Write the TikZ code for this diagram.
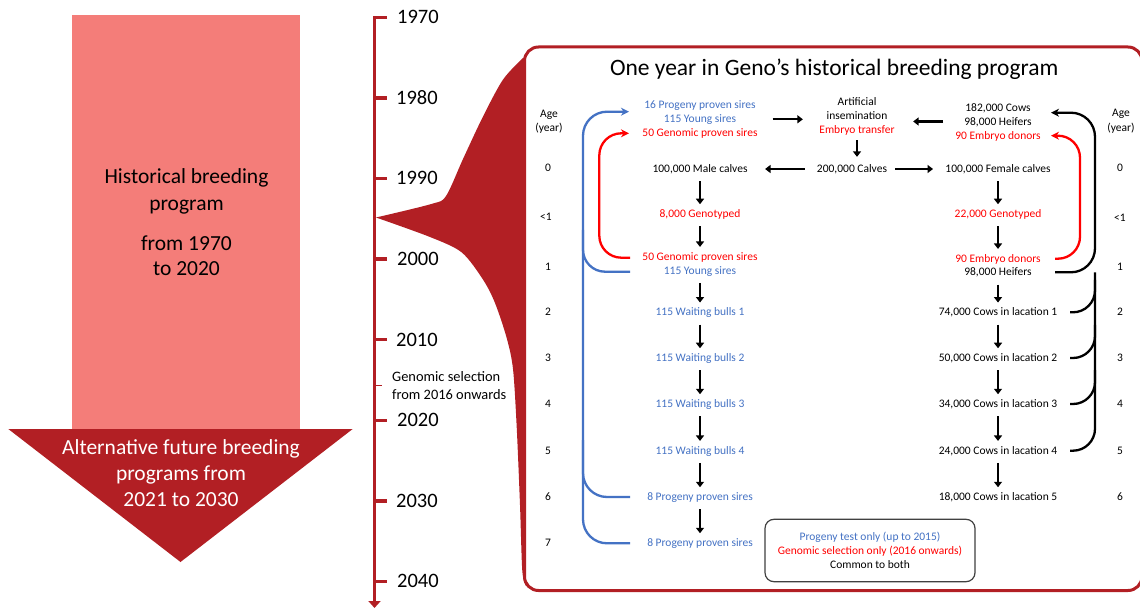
\documentclass[tikz,border=0pt]{standalone}
\usepackage{fontspec}
\setmainfont{Carlito}
\usetikzlibrary{arrows.meta}
\definecolor{dred}{HTML}{B21F24}
\definecolor{salmon}{HTML}{F47D79}
\definecolor{oblue}{HTML}{4472C4}
\definecolor{bred}{HTML}{FF0000}
\definecolor{lgray}{HTML}{404040}
\begin{document}
\begin{tikzpicture}[x=1pt,y=-1pt,
  t/.style={inner sep=0pt, text height=7.1pt, text depth=0pt, font=\fontsize{11.5}{14}\selectfont, anchor=center},
  tb/.style={t, text=oblue},
  tr/.style={t, text=bred},
  yr/.style={inner sep=0pt, text height=12.7pt, text depth=0pt, font=\fontsize{20.5}{24}\selectfont, anchor=west},
  big/.style={inner sep=0pt, text height=13.3pt, text depth=0pt, font=\fontsize{21.5}{26}\selectfont},
  gs/.style={inner sep=0pt, text height=8.9pt, text depth=0pt, font=\fontsize{14.4}{17}\selectfont, anchor=west},
  kA/.style={line width=2.2pt, -{Triangle[length=5.5pt,width=8pt]}},
  tipS/.style={-{Stealth[length=8pt,width=8pt,inset=2.5pt]}},
  bl/.style={oblue, line width=2.3pt},
  rl/.style={bred, line width=2.3pt},
  kl/.style={black, line width=2.3pt},
  tick/.style={dred, line width=3.5pt},
]
\useasboundingbox (0,0) rectangle (1140,609);

% ---------- left arrow ----------
\fill[salmon] (72,15.5) rectangle (300,429);
\fill[dred] (8.3,429) -- (352.7,429) -- (180.5,562) -- cycle;
\node[big] (h1) at (186.5,176.7) {Historical breeding};
\node[big] (h2) at (186.5,203.9) {program};
\node[big] (h3) at (186.5,243.5) {from 1970};
\node[big] (h4) at (186.5,269) {to 2020};
\node[big, text=white] (f1) at (181,447.8) {Alternative future breeding};
\node[big, text=white] (f2) at (181,473.8) {programs from};
\node[big, text=white] (f3) at (181,499.8) {2021 to 2030};

% ---------- funnel ----------
\fill[dred] plot[smooth, tension=0.5] coordinates {(376,217.5) (431.7,203.9) (446,196) (463,159) (483,116.5) (503,79.6) (523,58)}
  -- (532,58) -- (532,586)
  -- plot[smooth, tension=0.5] coordinates {(526,586) (522.3,571) (520,505) (516.7,427) (513,369) (506.7,338) (495,303) (483,279.6) (461.7,252.4) (430,237) (376,217.5)} -- cycle;

% ---------- timeline ----------
\draw[tick, -{Triangle[length=7pt,width=12pt]}] (387,17.5) -- (374.5,17.5) -- (374.5,608);
\foreach \yy in {98,178.6,259.2,339.7,420.3,500.8,581.4} {\draw[tick] (374.5,\yy) -- (387,\yy);}
\draw[dred, line width=1.5pt] (374.5,385.6) -- (381.5,385.6);
\node[yr] (y1970) at (397,17.5) {1970};
\node[yr] (y1980) at (396,98) {1980};
\node[yr] (y1990) at (396,178.6) {1990};
\node[yr] (y2000) at (397,259.2) {2000};
\node[yr] (y2010) at (396,339.7) {2010};
\node[yr] (y2020) at (397,420.3) {2020};
\node[yr] (y2030) at (396,500.8) {2030};
\node[yr] (y2040) at (397,581.4) {2040};
\node[gs] (gs1) at (392,377.5) {Genomic selection};
\node[gs] (gs2) at (392,395.3) {from 2016 onwards};

% ---------- box ----------
\draw[dred, line width=3pt, fill=white, rounded corners=14pt] (524.5,47) rectangle (1142,590.5);
\node[inner sep=0pt, text height=14.6pt, text depth=0pt, font=\fontsize{23.5}{28}\selectfont] (title) at (834.2,68) {One year in Geno’s historical breeding program};

% ages
\node[t] (aL) at (549,114) {Age};
\node[t] (aLy) at (549,128) {(year)};
\node[t] (aL0) at (548,168.3) {0};
\node[t] (aL1a) at (546,216.7) {<1};
\node[t] (aL1) at (548,266.7) {1};
\node[t] (aL2) at (548,312.3) {2};
\node[t] (aL3) at (548,358) {3};
\node[t] (aL4) at (548,404) {4};
\node[t] (aL5) at (548,450.7) {5};
\node[t] (aL6) at (548,497) {6};
\node[t] (aL7) at (548,543) {7};
\node[t] (aR) at (1121,113.3) {Age};
\node[t] (aRy) at (1121,127.7) {(year)};
\node[t] (aR0) at (1120,168.3) {0};
\node[t] (aR1a) at (1120,217.7) {<1};
\node[t] (aR1) at (1120,266.7) {1};
\node[t] (aR2) at (1120,312.3) {2};
\node[t] (aR3) at (1120,358) {3};
\node[t] (aR4) at (1120,404) {4};
\node[t] (aR5) at (1120,450.7) {5};
\node[t] (aR6) at (1120,496.7) {6};

% left column
\node[tb] (lA1) at (700,105) {16 Progeny proven sires};
\node[tb] (lA2) at (700,119.3) {115 Young sires};
\node[tr] (lA3) at (700,133.3) {50 Genomic proven sires};
\node[t]  (lM)  at (700,169) {100,000 Male calves};
\node[tr] (lG)  at (700,214) {8,000 Genotyped};
\node[tr] (lP1) at (700,256.7) {50 Genomic proven sires};
\node[tb] (lP2) at (700,270.7) {115 Young sires};
\node[tb] (lW1) at (700,312.3) {115 Waiting bulls 1};
\node[tb] (lW2) at (700,358) {115 Waiting bulls 2};
\node[tb] (lW3) at (700,404) {115 Waiting bulls 3};
\node[tb] (lW4) at (700,450.7) {115 Waiting bulls 4};
\node[tb] (lS6) at (700,497) {8 Progeny proven sires};
\node[tb] (lS7) at (700,543) {8 Progeny proven sires};

% middle column
\node[t]  (mA1) at (857,102.3) {Artificial};
\node[t]  (mA2) at (857,116.3) {insemination};
\node[tr] (mA3) at (857,130) {Embryo transfer};
\node[t]  (mC)  at (852,169) {200,000 Calves};

% right column
\node[t]  (rA1) at (998,107.7) {182,000 Cows};
\node[t]  (rA2) at (998,121.5) {98,000 Heifers};
\node[tr] (rA3) at (998,135.7) {90 Embryo donors};
\node[t]  (rF)  at (998,169) {100,000 Female calves};
\node[tr] (rG)  at (998,214) {22,000 Genotyped};
\node[tr] (rP1) at (998,258.7) {90 Embryo donors};
\node[t]  (rP2) at (998,272.3) {98,000 Heifers};
\node[t]  (rL1) at (998,312.3) {74,000 Cows in lacation 1};
\node[t]  (rL2) at (998,358) {50,000 Cows in lacation 2};
\node[t]  (rL3) at (998,404) {34,000 Cows in lacation 3};
\node[t]  (rL4) at (998,450.7) {24,000 Cows in lacation 4};
\node[t]  (rL5) at (998,497) {18,000 Cows in lacation 5};

% legend
\node[draw=lgray, line width=1.2pt, rounded corners=9pt, minimum width=210pt, minimum height=62.4pt,
      align=center, inner sep=0pt, font=\fontsize{11.5}{14}\selectfont] (leg) at (870,550.5)
  {\textcolor{oblue}{Progeny test only (up to 2015)}\\\textcolor{bred}{Genomic selection only (2016 onwards)}\\Common to both};

% black arrows
\draw[kA, shorten <=36.4pt, shorten >=23.6pt] (lA2.east) -- (lA2.east -| mA2.west);
\draw[kA, shorten <=21pt, shorten >=25.6pt] (rA2.west) -- (rA2.west -| mA2.east);
\draw[kA, shorten <=6.4pt, shorten >=8.4pt] (mA3) -- (mA3 |- mC.north);
\draw[kA, shorten <=12pt, shorten >=17.4pt] (mC.west) -- (lM.east);
\draw[kA, shorten <=7.9pt, shorten >=12.2pt] (mC.east) -- (rF.west);
\foreach \a/\b in {lM/lG, lG/lP1, lP2/lW1, lW1/lW2, lW2/lW3, lW3/lW4, lW4/lS6, lS6/lS7,
                   rF/rG, rG/rP1, rP2/rL1, rL1/rL2, rL2/rL3, rL3/rL4, rL4/rL5}
  {\draw[kA, shorten <=8.5pt, shorten >=6pt] (\a) -- (\b);}

% connector ends
\coordinate (bS7) at (630,543.3);
\coordinate (bS6) at (630,497);
\coordinate (bP2) at (630,271.7);
\coordinate (bTop) at (629,111.7);
\coordinate (cRL1) at (630,257.7);
\coordinate (cRL2) at (629,133.3);
\coordinate (cRR1) at (1055,258.7);
\coordinate (cRR2) at (1051,135.7);
\coordinate (cKR1) at (1055,272.3);
\coordinate (cKR2) at (1051,112.7);
\coordinate (cL1) at (1070,312.3);
\coordinate (cL2) at (1070,358);
\coordinate (cL3) at (1070,404);
\coordinate (cL4) at (1070,450.7);

% blue loop
\draw[bl, rounded corners=24pt, tipS] (bS7) -| (583,111.7) -- (bTop);
\draw[bl, rounded corners=24pt] (bS6) -| (583,440);
\draw[bl, rounded corners=22pt] (bP2) -| (583,230);
% red loops
\draw[rl, rounded corners=22pt, tipS] (cRL1) -| (599.3,133.3) -- (cRL2);
\draw[rl, rounded corners=22pt, tipS] (cRR1) -| (1080,135.7) -- (cRR2);
% black loop
\draw[kl, rounded corners=24pt, tipS] (cKR1) -| (1095,112.7) -- (cKR2);
\draw[kl, rounded corners=22pt] (cL4) -| (1095,272.3);
\draw[kl, rounded corners=22pt] (cL1) -| (1095,280);
\draw[kl, rounded corners=22pt] (cL2) -| (1095,325);
\draw[kl, rounded corners=22pt] (cL3) -| (1095,370);
\end{tikzpicture}
\end{document}
